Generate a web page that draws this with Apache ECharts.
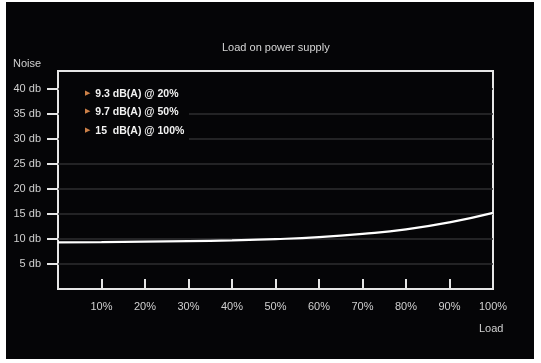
<!DOCTYPE html>
<html>
<head>
<meta charset="utf-8">
<script src="https://cdn.jsdelivr.net/npm/echarts@6/dist/echarts.min.js"></script>
<style>
html,body{margin:0;padding:0;background:#fff;}
#wrap{position:relative;width:541px;height:363px;background:#fff;}
#bg{position:absolute;left:6px;top:2px;width:528px;height:357px;background:#050507;}
#chart{position:absolute;left:0;top:0;width:541px;height:363px;}
</style>
</head>
<body>
<div id="wrap"><div id="bg"></div><div id="chart"></div></div>
<script>
// Data
const loadPct = [0, 10, 20, 30, 40, 50, 60, 70, 80, 90, 100];
const noiseDb = [9.3, 9.35, 9.45, 9.55, 9.7, 9.95, 10.35, 11.0, 11.9, 13.3, 15.2];
const yTicks = [5, 10, 15, 20, 25, 30, 35, 40];
const xTicks = [10, 20, 30, 40, 50, 60, 70, 80, 90, 100];
const notes = ['9.3 dB(A) @ 20%', '9.7 dB(A) @ 50%', '15  dB(A) @ 100%'];
const titleText = 'Load on power supply';
const yName = 'Noise';
const xName = 'Load';

const font = '"Liberation Sans", Arial, Helvetica, sans-serif';
const chart = echarts.init(document.getElementById('chart'), null, {renderer: 'canvas'});

const noteGraphics = notes.map((t, i) => ({
  type: 'text',
  left: 85,
  top: 88 + i * 18.5,
  z: 20,
  style: {
    text: '{tri|▶} {txt|' + t + '}',
    rich: {
      tri: {fill: '#cc8048', fontSize: 6.5, fontFamily: font, padding: [0, 2, 2, 0]},
      txt: {fill: '#f2f2f2', fontSize: 10.5, fontWeight: 'bold', fontFamily: font}
    }
  }
}));

chart.setOption({
  backgroundColor: 'transparent',
  animation: false,
  grid: {left: 58, right: 48, top: 71, bottom: 74, show: true, borderColor: '#e6e6e6', borderWidth: 2, backgroundColor: 'transparent'},
  xAxis: {
    type: 'value', min: 0, max: 100, interval: 10,
    axisLine: {show: false},
    axisTick: {show: true, inside: true, length: 10, customValues: xTicks.slice(0, 9), lineStyle: {color: '#e6e6e6', width: 2}},
    axisLabel: {customValues: xTicks, formatter: v => v + '%', color: '#d0d0d0', fontSize: 11, fontFamily: font, margin: 12},
    splitLine: {show: false}
  },
  yAxis: {
    type: 'value', min: 0, max: 43.5, interval: 5,
    axisLine: {show: false},
    axisTick: {show: true, inside: false, length: 11, customValues: yTicks, lineStyle: {color: '#e6e6e6', width: 2}},
    axisLabel: {customValues: yTicks, formatter: v => v + ' db', color: '#d0d0d0', fontSize: 11, fontFamily: font, margin: 17},
    splitLine: {show: true, lineStyle: {color: '#2e2e31', width: 1.5}}
  },
  series: [{
    type: 'line',
    data: loadPct.map((x, i) => [x, noiseDb[i]]),
    smooth: true,
    showSymbol: false,
    lineStyle: {color: '#ffffff', width: 2.2},
    z: 5
  }],
  graphic: [
    {type: 'rect', left: 59, top: 82, z: 10, shape: {width: 433, height: 10}, style: {fill: '#050507'}},
    {type: 'rect', left: 59, top: 80, z: 10, shape: {width: 130, height: 62}, style: {fill: '#050507'}},
    {type: 'text', left: 222, top: 42, style: {text: titleText, fill: '#d6d6d6', fontSize: 11, fontFamily: font}},
    {type: 'text', left: 13, top: 58, style: {text: yName, fill: '#d0d0d0', fontSize: 11, fontFamily: font}},
    {type: 'text', left: 479, top: 323, style: {text: xName, fill: '#d0d0d0', fontSize: 11, fontFamily: font}}
  ].concat(noteGraphics)
});
</script>
</body>
</html>
